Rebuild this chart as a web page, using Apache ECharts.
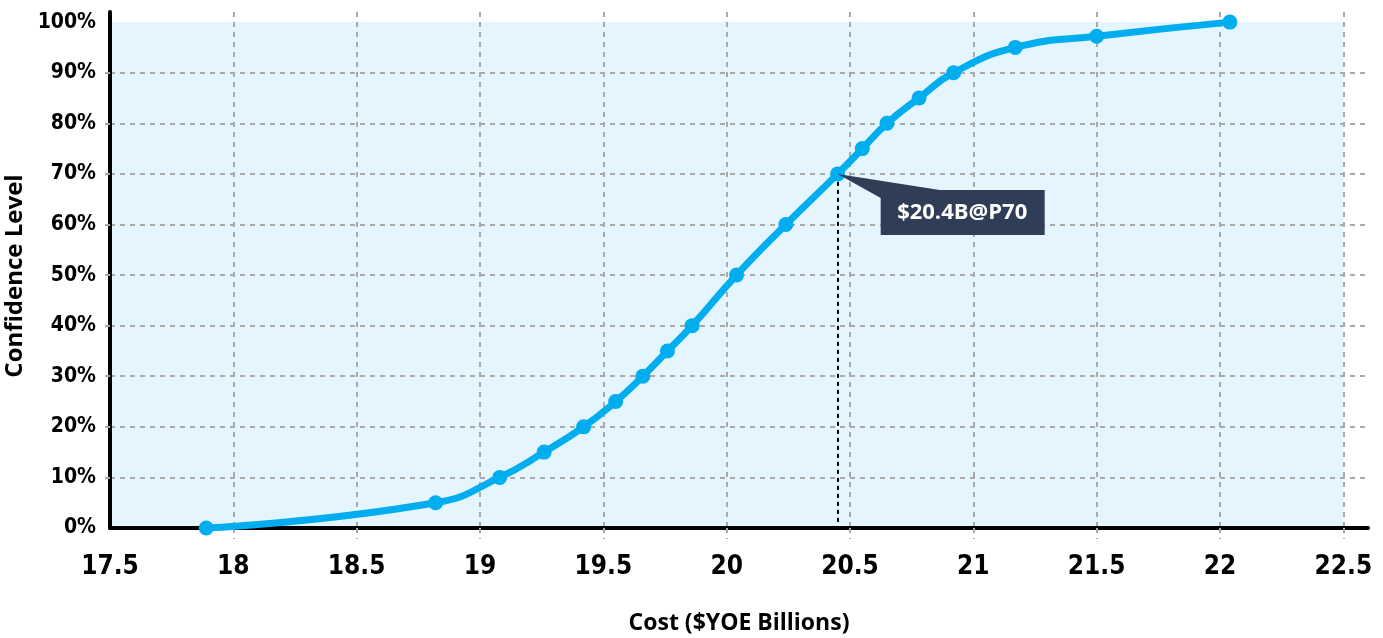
<!DOCTYPE html>
<html>
<head>
<meta charset="utf-8">
<script src="https://cdn.jsdelivr.net/npm/echarts@6/dist/echarts.min.js"></script>
<style>
html,body{margin:0;padding:0;background:#fff;}
#chart{width:1383px;height:638px;}
</style>
</head>
<body>
<div id="chart"></div>
<script>
// Data
const costValues = [17.89, 18.82, 19.08, 19.26, 19.42, 19.55, 19.66, 19.76, 19.86, 20.04, 20.24, 20.45, 20.55, 20.65, 20.78, 20.92, 21.17, 21.50, 22.04];
const confidenceValues = [0, 5, 10, 15, 20, 25, 30, 35, 40, 50, 60, 70, 75, 80, 85, 90, 95, 97.2, 100];
const xTickLabels = [17.5, 18, 18.5, 19, 19.5, 20, 20.5, 21, 21.5, 22, 22.5];
const xGridValues = [18, 18.5, 19, 19.5, 20, 20.5, 21, 21.5, 22, 22.5];
const yTickLabels = [0, 10, 20, 30, 40, 50, 60, 70, 80, 90, 100];
const yGridValues = [10, 20, 30, 40, 50, 60, 70, 80, 90];
const calloutPoint = [20.45, 70];
const calloutText = '$20.4B@P70';
const shadedRange = [[17.5, 0], [22.5, 100]];

const narrow = "'Liberation Sans Narrow','DejaVu Sans Condensed',sans-serif";
const gridLineStyle = { color: '#a9a9a9', width: 2, type: [5, 5] };

const chart = echarts.init(document.getElementById('chart'), null, { renderer: 'canvas' });
chart.setOption({
  animation: false,
  grid: { left: 110, right: 15, top: 12, bottom: 110, containLabel: false, outerBoundsMode: 'none' },
  xAxis: {
    type: 'value', min: 17.5, max: 22.6, z: 1,
    name: 'Cost ($YOE Billions)', nameLocation: 'middle', nameGap: 84,
    nameTextStyle: { fontFamily: "'Open Sans',sans-serif", fontWeight: 'bold', fontSize: 23, color: '#000' },
    axisLine: { show: true, onZero: false, lineStyle: { color: '#000', width: 4 } },
    axisTick: { show: true, length: 11, customValues: xGridValues, lineStyle: gridLineStyle },
    axisLabel: { customValues: xTickLabels, margin: 26, fontFamily: narrow, fontWeight: 'bold', fontSize: 26, color: '#000' },
    splitLine: { show: true, lineStyle: gridLineStyle }
  },
  yAxis: {
    type: 'value', min: 0, max: 102, z: 1,
    name: 'Confidence Level', nameLocation: 'middle', nameGap: 60, nameRotate: 90,
    nameTextStyle: { fontFamily: "'Open Sans',sans-serif", fontWeight: 'bold', fontSize: 24, color: '#000', padding: [0, 12, 0, 0] },
    axisLine: { show: true, onZero: false, lineStyle: { color: '#000', width: 4 } },
    axisTick: { show: true, length: 9, customValues: yGridValues, lineStyle: gridLineStyle },
    axisLabel: { customValues: yTickLabels, margin: 14, formatter: '{value}%', fontFamily: narrow, fontWeight: 'bold', fontSize: 21, color: '#000' },
    splitLine: { show: true, lineStyle: gridLineStyle }
  },
  series: [
    {
      type: 'line', z: 0, silent: true, data: [],
      markArea: {
        z: 0, silent: true,
        itemStyle: { color: '#e4f5fd' },
        data: [[{ coord: shadedRange[0] }, { coord: shadedRange[1] }]]
      }
    },
    {
      type: 'line', z: 3,
      data: costValues.map((c, i) => [c, confidenceValues[i]]),
      smooth: 0.5,
      symbol: 'circle', symbolSize: 15,
      lineStyle: { color: '#00aeef', width: 7 },
      itemStyle: { color: '#00aeef' },
      markLine: {
        silent: true, symbol: 'none', z: 2,
        lineStyle: { color: '#000', width: 2, type: [4, 4] },
        label: { show: false },
        data: [[{ coord: calloutPoint }, { coord: [calloutPoint[0], 0] }]]
      },
      markPoint: {
        silent: true, z: 6,
        data: [{
          coord: calloutPoint,
          symbol: 'path://M0,0 L102,16 L207,16 L207,61 L43,61 L43,24 Z',
          symbolSize: [207, 61],
          symbolOffset: [103.5, 30.5],
          itemStyle: { color: '#2f3e56' },
          label: {
            show: true, position: 'inside', offset: [21, 8],
            formatter: calloutText,
            color: '#fff', fontFamily: "'Open Sans',sans-serif", fontWeight: 'bold', fontSize: 22
          }
        }]
      }
    }
  ]
});
</script>
</body>
</html>
